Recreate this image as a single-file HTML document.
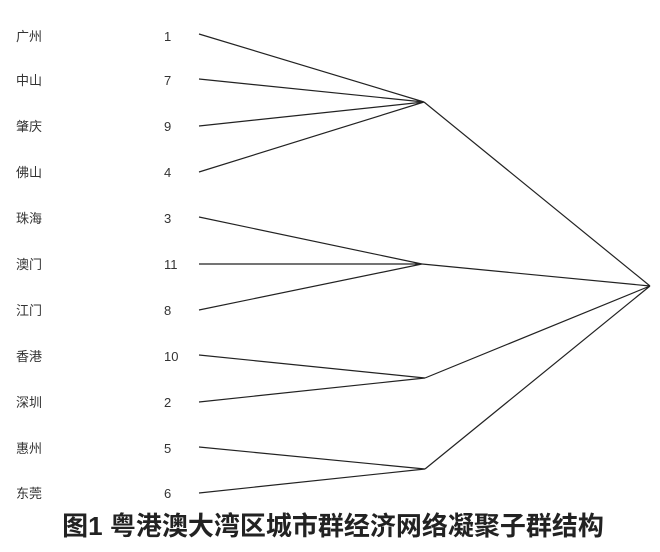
<!DOCTYPE html>
<html><head><meta charset="utf-8"><style>
body{margin:0;background:#fff;width:660px;height:552px;overflow:hidden}
</style></head><body>
<svg width="660" height="552" xmlns="http://www.w3.org/2000/svg" style="position:absolute;left:0;top:0">
<g font-family="Liberation Sans, 'Noto Sans CJK SC', sans-serif" font-size="13" fill="#333">
<text x="16" y="41">广州</text><text x="164" y="41">1</text>
<text x="16" y="85">中山</text><text x="164" y="85">7</text>
<text x="16" y="131">肇庆</text><text x="164" y="131">9</text>
<text x="16" y="177">佛山</text><text x="164" y="177">4</text>
<text x="16" y="223">珠海</text><text x="164" y="223">3</text>
<text x="16" y="269">澳门</text><text x="164" y="269">11</text>
<text x="16" y="315">江门</text><text x="164" y="315">8</text>
<text x="16" y="361">香港</text><text x="164" y="361">10</text>
<text x="16" y="407">深圳</text><text x="164" y="407">2</text>
<text x="16" y="453">惠州</text><text x="164" y="453">5</text>
<text x="16" y="498">东莞</text><text x="164" y="498">6</text>
</g>
<g stroke="#222" stroke-width="1.2" fill="none">
<path d="M199 34L424 102M199 79L424 102M199 126L424 102M199 172L424 102"/>
<path d="M199 217L422 264M199 264L422 264M199 310L422 264"/>
<path d="M199 355L425 378M199 402L425 378"/>
<path d="M199 447L425 469M199 493L425 469"/>
<path d="M424 102L650 286M422 264L650 286M425 378L650 286M425 469L650 286"/>
</g>
<text x="333" y="535" text-anchor="middle" font-family="Liberation Sans, 'Noto Sans CJK SC', sans-serif" font-size="26" font-weight="bold" fill="#222">图1  粤港澳大湾区城市群经济网络凝聚子群结构</text>
</svg>
</body></html>
